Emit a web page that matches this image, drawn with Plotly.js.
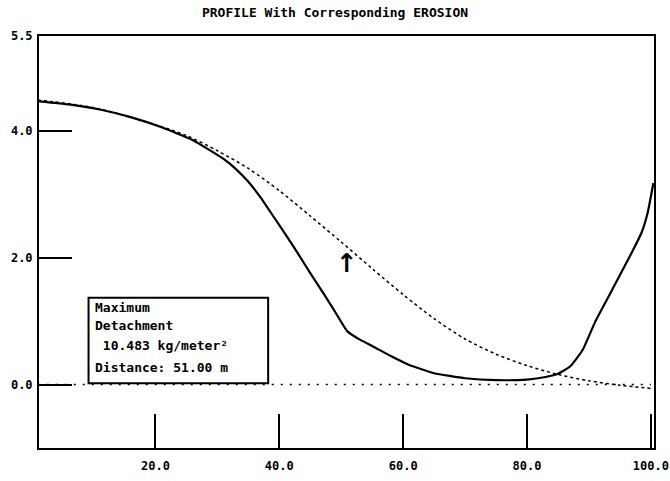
<!DOCTYPE html>
<html>
<head>
<meta charset="utf-8">
<script src="https://cdn.plot.ly/plotly-3.0.1.min.js"></script>
<style>html,body{margin:0;padding:0;background:#fff;}#chart{width:670px;height:481px;}</style>
</head>
<body>
<div id="chart"></div>
<script>
// Eroded profile (solid)
const erodedX = [1, 6, 11, 16, 21, 26, 31, 33, 35, 37, 39, 41, 43, 45, 47, 49, 51, 53, 55, 58, 61, 65, 70, 75, 80, 83, 85, 87, 89, 91, 93, 95, 97, 98.5, 99.5, 100.4];
const erodedY = [4.47, 4.42, 4.34, 4.22, 4.06, 3.86, 3.56, 3.40, 3.20, 2.95, 2.66, 2.37, 2.07, 1.76, 1.46, 1.15, 0.84, 0.71, 0.61, 0.45, 0.31, 0.18, 0.10, 0.07, 0.08, 0.12, 0.17, 0.29, 0.55, 0.99, 1.36, 1.73, 2.10, 2.40, 2.72, 3.18];
// Original profile (dashed)
const origX = [1, 10, 20, 25, 30, 35, 40, 45, 50, 55, 60, 65, 70, 75, 80, 85, 90, 95, 100];
const origY = [4.49, 4.37, 4.10, 3.93, 3.69, 3.41, 3.06, 2.66, 2.25, 1.83, 1.42, 1.04, 0.72, 0.48, 0.30, 0.16, 0.06, -0.01, -0.06];
// Zero reference line
const zeroX = [1, 100];
const zeroY = [0, 0];
// Axis ticks
const xTickVals = [20, 40, 60, 80, 100];
const xTickText = ["20.0", "40.0", "60.0", "80.0", "100.0"];
const yTickVals = [0, 2, 4, 5.5];
const yTickText = ["0.0", "2.0", "4.0", "5.5"];
// Info box
const infoLines = ["Maximum", "Detachment", " 10.483 kg/meter²", "Distance: 51.00 m"];
const maxDistance = 51.0;
const arrowTipY = 2.19;

const mono = "DejaVu Sans Mono, monospace";

const traces = [
  {x: zeroX, y: zeroY, mode: "lines", line: {color: "#000", width: 1.5, dash: "2px,7px"}, hoverinfo: "skip"},
  {x: origX, y: origY, mode: "lines", line: {color: "#000", width: 1.5, dash: "3px,3px", shape: "spline", smoothing: 0.8}, hoverinfo: "skip"},
  {x: erodedX, y: erodedY, mode: "lines", line: {color: "#000", width: 2.2, shape: "spline", smoothing: 0.4}, hoverinfo: "skip"}
];

const lineYs = [1.21, 0.94, 0.61, 0.27];
const annotations = infoLines.map((t, i) => ({
  x: 9.9, y: lineYs[i], xref: "x", yref: "y", text: t, showarrow: false,
  xanchor: "left", yanchor: "middle",
  font: {family: mono, size: 13, color: "#000", weight: "bold"}
}));
annotations.push({
  x: maxDistance, y: arrowTipY, xref: "x", yref: "y", text: "↑", showarrow: false,
  xanchor: "center", yanchor: "top",
  font: {family: "DejaVu Sans, sans-serif", size: 26, color: "#000", weight: "bold"}
});

const layout = {
  width: 670, height: 481,
  margin: {l: 39, r: 16, t: 36, b: 33},
  paper_bgcolor: "#fff", plot_bgcolor: "#fff",
  showlegend: false,
  title: {text: "PROFILE With Corresponding EROSION", x: 0.5, xanchor: "center", y: 0.975, yanchor: "middle",
          font: {family: mono, size: 13, color: "#000", weight: "bold"}},
  xaxis: {range: [1.2, 100.5], tickvals: xTickVals, ticktext: xTickText, ticks: "inside", ticklen: 34, tickwidth: 2,
          tickcolor: "#000", showline: true, linewidth: 2, linecolor: "#000", mirror: true, showgrid: false, zeroline: false,
          tickfont: {family: mono, size: 12, color: "#000", weight: "bold"}, ticklabelstandoff: 6},
  yaxis: {range: [-1, 5.5], tickvals: yTickVals, ticktext: yTickText, ticks: "inside", ticklen: 33, tickwidth: 2,
          tickcolor: "#000", showline: true, linewidth: 2, linecolor: "#000", mirror: true, showgrid: false, zeroline: false,
          tickfont: {family: mono, size: 12, color: "#000", weight: "bold"}, ticklabelstandoff: 2},
  shapes: [{type: "rect", xref: "x", yref: "y", x0: 9.2, x1: 38.2, y0: 0.02, y1: 1.37,
            line: {color: "#000", width: 2}, fillcolor: "rgba(0,0,0,0)"}],
  annotations: annotations
};

Plotly.newPlot("chart", traces, layout, {displayModeBar: false, staticPlot: true});
</script>
</body>
</html>
